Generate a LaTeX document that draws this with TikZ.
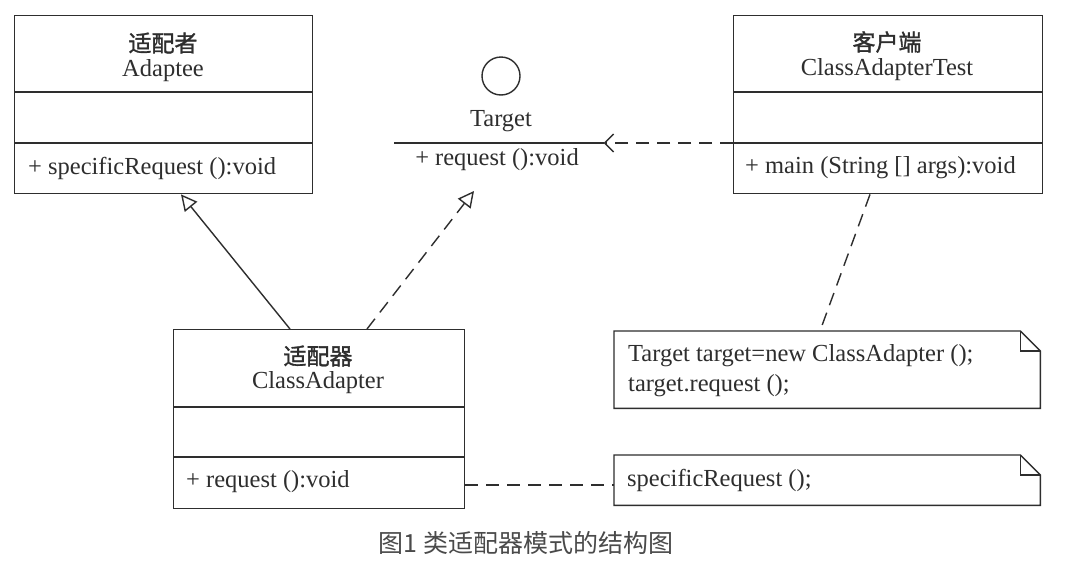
\documentclass[tikz,border=0pt]{standalone}
\usepackage{fontspec}
\setmainfont{Liberation Serif}
\newfontfamily\cjk{Noto Sans CJK SC}
\newfontfamily\cjkh[FakeBold=1.3]{Noto Sans CJK SC}
\usetikzlibrary{arrows.meta,calc}
\definecolor{ink}{HTML}{2E2E2E}
\definecolor{capgray}{HTML}{4A4A4A}
\tikzset{
  boxline/.style={draw=ink, line width=1.4pt},
  classbox/.style={boxline, rectangle, inner sep=0pt, anchor=north west},
  ttl/.style={text=ink, font=\fontsize{24.5}{28}\selectfont, inner sep=0pt},
  cn/.style={text=ink, font=\cjkh\fontsize{23}{26}\selectfont, inner sep=0pt},
  mem/.style={text=ink, font=\fontsize{24.5}{28}\selectfont, inner sep=0pt, anchor=west},
  dashline/.style={draw=ink, line width=1.4pt, dash pattern=on 13pt off 8pt},
  solidline/.style={draw=ink, line width=1.4pt},
  inherit/.style={-{Triangle[open, length=16pt, width=16pt, line width=1.4pt]}},
  depend/.style={-{Straight Barb[length=9pt, width=18pt, line width=1.4pt]}},
  notebox/.style={inner sep=0pt, anchor=north west},
}
\begin{document}
\begin{tikzpicture}[x=1pt,y=-1pt]
\useasboundingbox[fill=white] (0,0) rectangle (1077,568);

% Adaptee
\node[classbox, minimum width=298pt, minimum height=178pt] (adaptee) at (14,15) {};
\draw[boxline] (adaptee.west |- 0,92) -- (adaptee.east |- 0,92);
\draw[boxline] (adaptee.west |- 0,143) -- (adaptee.east |- 0,143);
\node[cn] (adcn) at (163,43) {适配者};
\node[ttl] (aden) at (163,71) {Adaptee};
\node[mem] (admem) at (28,168) {+ specificRequest ():void};

% Client
\node[classbox, minimum width=309pt, minimum height=178pt] (client) at (733,15) {};
\draw[boxline] (client.west |- 0,92) -- (client.east |- 0,92);
\draw[boxline] (client.west |- 0,143) -- (client.east |- 0,143);
\node[cn] (clcn) at (887,42) {客户端};
\node[ttl] (clen) at (887,70) {ClassAdapterTest};
\node[mem] (clmem) at (745,168) {+ main (String [] args):void};

% Target interface
\node[circle, draw=ink, line width=1.4pt, minimum size=38pt, inner sep=0pt] (tcirc) at (501,76) {};
\node[ttl] (tname) at (501,121) {Target};
\node[inner sep=0pt, minimum width=209pt, minimum height=0pt] (tline) at (499,143) {};
\draw[solidline] (tline.west) -- (tline.east);
\node[ttl] (tmem) at (497,160) {+ request ():void};
\coordinate (ttip) at (474,191);

% ClassAdapter
\node[classbox, minimum width=291pt, minimum height=179pt] (adapter) at (173,329) {};
\draw[boxline] (adapter.west |- 0,407) -- (adapter.east |- 0,407);
\draw[boxline] (adapter.west |- 0,457) -- (adapter.east |- 0,457);
\node[cn] (acn) at (318,356) {适配器};
\node[ttl] (aen) at (318,383) {ClassAdapter};
\node[mem] (amem) at (186,482) {+ request ():void};

% Notes
\node[notebox, minimum width=426pt, minimum height=77pt] (note1) at (614,331) {};
\draw[boxline, line join=miter] (note1.north west) -- ($(note1.north east)+(-20pt,0)$) -- ($(note1.north east)+(0,-20pt)$) -- (note1.south east) -- (note1.south west) -- cycle;
\draw[boxline] ($(note1.north east)+(-20pt,0)$) -- ($(note1.north east)+(-20pt,-20pt)$) -- ($(note1.north east)+(0,-20pt)$);
\node[mem] (n1a) at (628,356) {Target target=new ClassAdapter ();};
\node[mem] (n1b) at (628,386) {target.request ();};

\node[notebox, minimum width=426pt, minimum height=50pt] (note2) at (614,455) {};
\draw[boxline, line join=miter] (note2.north west) -- ($(note2.north east)+(-20pt,0)$) -- ($(note2.north east)+(0,-20pt)$) -- (note2.south east) -- (note2.south west) -- cycle;
\draw[boxline] ($(note2.north east)+(-20pt,0)$) -- ($(note2.north east)+(-20pt,-20pt)$) -- ($(note2.north east)+(0,-20pt)$);
\node[mem] (n2a) at (627,480) {specificRequest ();};

% Connectors
\draw[solidline, inherit] (adapter.north -| 290,0) -- (adaptee.south -| 181,0);
\draw[dashline, inherit] (adapter.north -| 367,0) -- (ttip);
\draw[dashline, depend] (client.west |- 0,143) -- (tline.east);
\draw[dashline] (client.south -| 870,0) -- (note1.north -| 820,0);
\draw[dashline] (adapter.east |- 0,485) -- (note2.west |- 0,485);

% Caption
\node[text=capgray, font=\cjk\fontsize{25}{28}\selectfont, inner sep=0pt] (cap) at (526,543) {图1 类适配器模式的结构图};
\end{tikzpicture}
\end{document}
